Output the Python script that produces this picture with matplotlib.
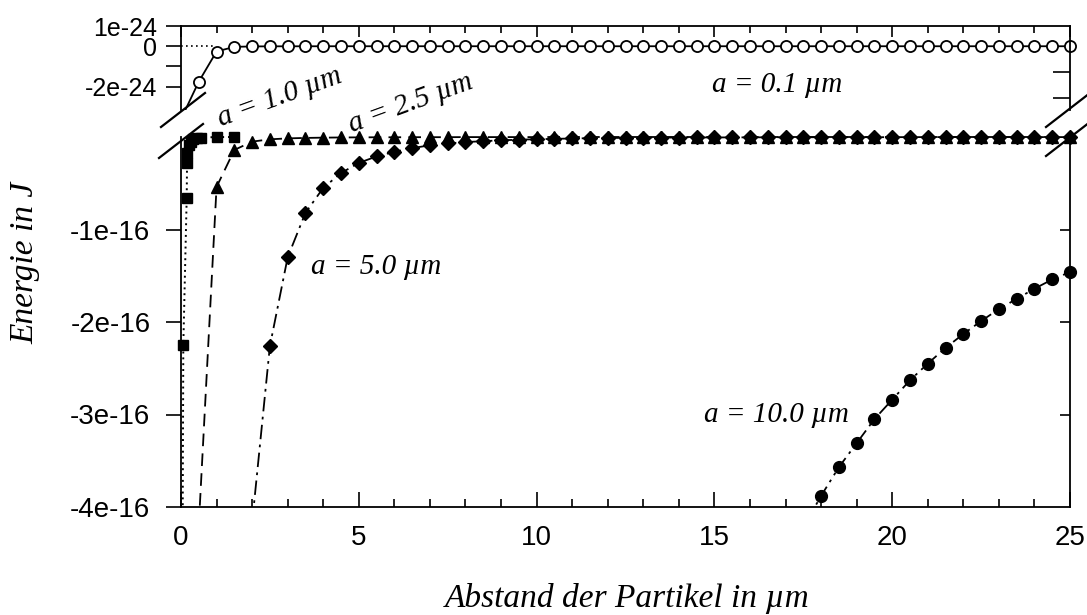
import matplotlib
matplotlib.use("Agg")
import matplotlib.pyplot as plt
from matplotlib.lines import Line2D
from matplotlib.patches import Rectangle
import numpy as np

plt.rcParams['font.family'] = ['Liberation Sans', 'DejaVu Sans']

# ---- data (energies) ----
# a = 0.1 um, upper panel, in units of 1e-24 J
x_a01 = np.arange(0.0, 25.01, 0.5)
e_a01 = [-3.6, -1.75, -0.26, -0.03, -0.01, -0.005, -0.003, -0.002, -0.001, 0.0,
         0.0, 0.0, 0.0, 0.0, 0.0, 0.0, 0.0, 0.0, 0.0, 0.0,
         0.0, 0.0, 0.0, 0.0, 0.0, 0.0, 0.0, 0.0, 0.0, 0.0,
         0.0, 0.0, 0.0, 0.0, 0.0, 0.0, 0.0, 0.0, 0.0, 0.0,
         0.0, 0.0, 0.0, 0.0, 0.0, 0.0, 0.0, 0.0, 0.0, 0.0, 0.0]
zero_ref_x = [0.0, 0.9]
zero_ref_y = [0.0, 0.0]

# lower panel, in units of 1e-16 J
x_a10 = [0.03, 0.065, 0.16, 0.17, 0.18, 0.22, 0.28, 0.35, 0.45, 0.55, 1.0, 1.5]
e_a10 = [-6.0, -2.25, -0.66, -0.28, -0.17, -0.09, -0.05, -0.025, -0.012, -0.006, -0.001, 0.0]

x_a25 = np.arange(0.5, 25.01, 0.5)
e_a25 = [-4.2, -0.54, -0.14, -0.05, -0.025, -0.015, -0.010, -0.007, -0.005, -0.004,
         -0.003, -0.003, -0.002, -0.002, -0.002, -0.001, -0.001, -0.001, -0.001, -0.001,
         0.0, 0.0, 0.0, 0.0, 0.0, 0.0, 0.0, 0.0, 0.0, 0.0,
         0.0, 0.0, 0.0, 0.0, 0.0, 0.0, 0.0, 0.0, 0.0, 0.0,
         0.0, 0.0, 0.0, 0.0, 0.0, 0.0, 0.0, 0.0, 0.0, 0.0]

x_a50 = np.arange(2.0, 25.01, 0.5)
e_a50 = [-4.17, -2.26, -1.30, -0.82, -0.55, -0.39, -0.28, -0.21, -0.16, -0.12,
         -0.09, -0.07, -0.055, -0.045, -0.036, -0.029, -0.024, -0.020, -0.016, -0.013,
         -0.011, -0.009, -0.008, -0.007, -0.006, -0.005, -0.005, -0.004, -0.004, -0.003,
         -0.003, -0.003, -0.002, -0.002, -0.002, -0.002, -0.002, -0.001, -0.001, -0.001,
         -0.001, -0.001, -0.001, -0.001, -0.001, -0.001, -0.001]

x_a100 = np.arange(17.5, 25.01, 0.5)
e_a100 = [-4.22, -3.88, -3.57, -3.31, -3.05, -2.84, -2.63, -2.45,
          -2.28, -2.13, -1.99, -1.86, -1.75, -1.64, -1.54, -1.46]

top_ticks = [1e-24, 0.0, -2e-24]
top_labels = ['1e-24', '0', '-2e-24']
bot_ticks = [-1e-16, -2e-16, -3e-16, -4e-16]
bot_labels = ['-1e-16', '-2e-16', '-3e-16', '-4e-16']
x_ticks = [0, 5, 10, 15, 20, 25]

# ---- layout (pixel based) ----
W, H = 1087, 615
def fx(px):
    return px / W
def fy(py):
    return 1 - py / H

fig = plt.figure(figsize=(W / 100, H / 100), dpi=100)
ax_top = fig.add_axes([fx(181), fy(110), fx(1070) - fx(181), fy(26) - fy(110)])
ax_bot = fig.add_axes([fx(181), fy(507), fx(1070) - fx(181), fy(137) - fy(507)])

serif = dict(family='Liberation Serif', style='italic')
tick_fs = 20

# ---- upper panel ----
ax_top.set_xlim(0, 25)
ax_top.set_ylim(-3.15e-24, 1e-24)
ax_top.spines['bottom'].set_visible(False)
ax_top.plot(zero_ref_x, zero_ref_y, color='k', lw=1.2, ls=(0, (1, 2)))
l01, = ax_top.plot(x_a01, np.array(e_a01) * 1e-24, color='k', lw=1.3, marker='o',
                   ms=8, mfc='white', mec='k', mew=1.3)
l01.set_clip_path(Rectangle((-0.02, 0), 1.04, 1.0, transform=ax_top.transAxes))

ax_top.xaxis.set_ticks_position('top')
ax_top.set_xticks(x_ticks)
ax_top.set_xticks(np.arange(0, 26, 1), minor=True)
ax_top.tick_params(axis='x', which='both', direction='in', bottom=False,
                   labelbottom=False, labeltop=False, width=1.2)
ax_top.tick_params(axis='x', which='major', length=8)
ax_top.tick_params(axis='x', which='minor', length=5)
ax_top.set_yticks(top_ticks)
ax_top.set_yticklabels(top_labels)
ax_top.set_yticks([-1e-24], minor=True)
ax_top.tick_params(axis='y', which='both', direction='out', length=11, width=1.2,
                   pad=6, labelsize=18)
ax_tr = ax_top.twinx()
ax_tr.set_ylim(ax_top.get_ylim())
ax_tr.set_yticks([-1.25e-24, -2.55e-24])
ax_tr.tick_params(axis='y', direction='in', length=12, width=1.2, labelright=False)
for s in ax_tr.spines.values():
    s.set_visible(False)

# ---- lower panel ----
ax_bot.set_xlim(0, 25)
ax_bot.set_ylim(-4e-16, 0)
ax_bot.spines['top'].set_visible(False)
clip_bot = lambda: Rectangle((-0.02, 0), 1.04, 1.04, transform=ax_bot.transAxes)

l10, = ax_bot.plot(x_a10, np.array(e_a10) * 1e-16, color='k', lw=1.4,
                   ls=(0, (1, 2)), marker='s', ms=7)
l25, = ax_bot.plot(x_a25, np.array(e_a25) * 1e-16, color='k', lw=1.3,
                   ls=(0, (7, 4)), marker='^', ms=8.5)
l50, = ax_bot.plot(x_a50, np.array(e_a50) * 1e-16, color='k', lw=1.3,
                   ls=(0, (8, 3, 1.5, 3)), marker='D', ms=7.5)
l100, = ax_bot.plot(x_a100, np.array(e_a100) * 1e-16, color='k', lw=1.3,
                    ls=(0, (7, 3, 1.5, 3, 1.5, 3)), marker='o', ms=8.5)
for ln in (l10, l25, l50, l100):
    ln.set_clip_path(clip_bot())

ax_bot.set_xticks(x_ticks)
ax_bot.set_xticks(np.arange(0, 26, 1), minor=True)
ax_bot.tick_params(axis='x', which='both', direction='in', top=False, width=1.2,
                   pad=13, labelsize=tick_fs)
ax_bot.tick_params(axis='x', which='major', length=11)
ax_bot.tick_params(axis='x', which='minor', length=6)
ax_bot.set_yticks(bot_ticks)
ax_bot.set_yticklabels(bot_labels)
ax_bot.tick_params(axis='y', direction='out', length=11, width=1.2, pad=11,
                   labelsize=tick_fs)
ax_br = ax_bot.twinx()
ax_br.set_ylim(ax_bot.get_ylim())
ax_br.set_yticks(bot_ticks[:3])
ax_br.tick_params(axis='y', direction='in', length=7, width=1.2, labelright=False)
for s in ax_br.spines.values():
    s.set_visible(False)

for a in (ax_top, ax_bot):
    for s in a.spines.values():
        s.set_linewidth(1.3)

# ---- axis break marks ----
def slash(xp, yp):
    fig.add_artist(Line2D([fx(xp - 22), fx(xp + 22)], [fy(yp + 17), fy(yp - 17)],
                          color='k', lw=1.6))

slash(183, 110)
slash(181, 141)
slash(1068, 110)
slash(1068, 139)

# ---- labels ----
fig.text(fx(25), fy(263), 'Energie in J', rotation=90, ha='center', va='center',
         size=24, **serif)
fig.text(fx(627), fy(598), 'Abstand der Partikel in µm', ha='center', va='center',
         size=24, **serif)
fig.text(fx(777), fy(85), 'a = 0.1 µm', ha='center', va='center', size=21, **serif)
fig.text(fx(280), fy(98), 'a = 1.0 µm', ha='center', va='center', size=21,
         rotation=20, rotation_mode='anchor', **serif)
fig.text(fx(411), fy(104), 'a = 2.5 µm', ha='center', va='center', size=21,
         rotation=20, rotation_mode='anchor', **serif)
fig.text(fx(376), fy(267), 'a = 5.0 µm', ha='center', va='center', size=21, **serif)
fig.text(fx(776), fy(415), 'a = 10.0 µm', ha='center', va='center', size=21, **serif)

fig.savefig('out.png', dpi=100)
